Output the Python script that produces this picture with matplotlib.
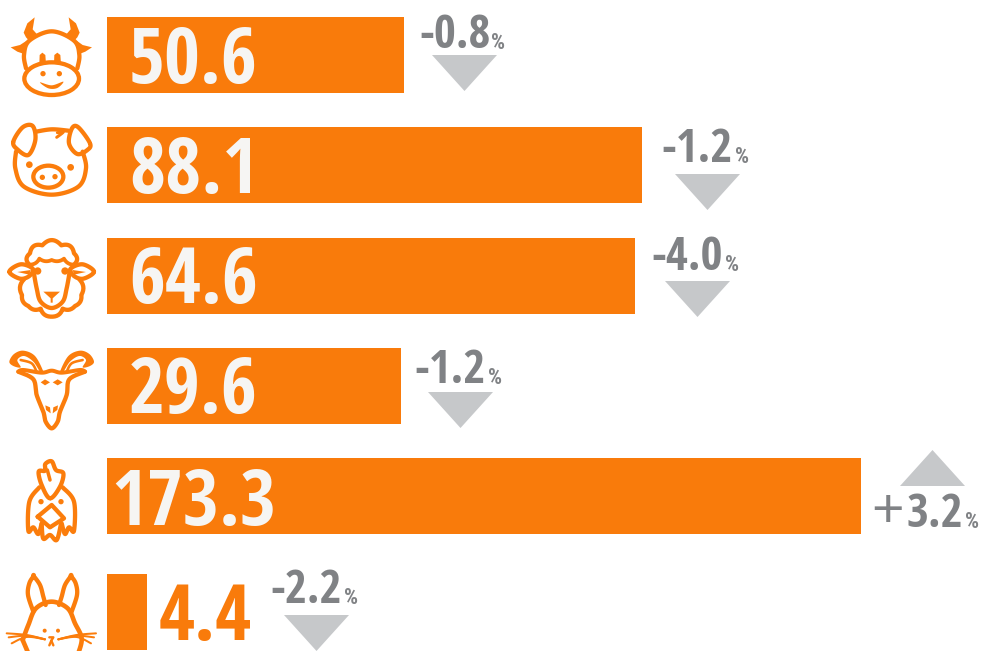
import numpy as np
import matplotlib
matplotlib.use("Agg")
import matplotlib.pyplot as plt
from matplotlib.patches import Polygon, Circle, Ellipse

# ---- data
animals = ["cow", "pig", "sheep", "goat", "chicken", "rabbit"]
values = [50.6, 88.1, 64.6, 29.6, 173.3, 4.4]
changes = [-0.8, -1.2, -4.0, -1.2, 3.2, -2.2]
bar_lengths = [297, 535, 528, 294, 754, 40]   # drawn length, not proportional to the value

ORANGE = "#F97B0B"
ICON = "#FB7D0C"
TRI = "#C6C8CA"
GREY = "#808285"
FONT = "Open Sans Condensed"
PCT_FONT = "Roboto Condensed"

fig = plt.figure(figsize=(9.84, 6.51), dpi=100)
ax = fig.add_axes([0, 0, 1, 1])
ax.set_xlim(0, 984)
ax.set_ylim(651, 0)
ax.axis("off")

# layout in pixels
bar_left = 107
bar_centre = [55, 165, 276, 386, 496, 612]
bar_h = 76
value_x = [129, 129, 129, 129, 111, 159]
value_base = [83, 193, 303, 413, 525, 640]
delta_x = [419, 661, 651, 414, 907, 270]
delta_base = [48, 162, 270, 383, 527, 603]
pct_x = [491, 735, 725, 488, 965, 344]
tri_x = [432, 675, 665, 428, 900, 284]
tri_y = [55, 174, 281, 392, 486, 615]
tri_w, tri_h = 65, 36

ax.barh(bar_centre, bar_lengths, height=bar_h, left=bar_left, color=ORANGE, linewidth=0)

for i, v in enumerate(values):
    ax.text(value_x[i], value_base[i], f"{v:.1f}", family=FONT, weight="bold", fontsize=56,
            color="#F6F5F3" if i < 5 else ORANGE, va="baseline", ha="left")
    c = changes[i]
    ax.text(delta_x[i], delta_base[i], f"{c:.1f}", family=FONT, weight="bold",
            fontsize=34, color=GREY, va="baseline", ha="left")
    ax.text(pct_x[i], delta_base[i] + 1, "%", family=PCT_FONT, weight="bold", fontsize=16,
            color=GREY, va="baseline", ha="left")
    if c < 0:
        pts = [(tri_x[i], tri_y[i]), (tri_x[i] + tri_w, tri_y[i]), (tri_x[i] + tri_w / 2, tri_y[i] + tri_h)]
    else:
        pts = [(tri_x[i], tri_y[i]), (tri_x[i] + tri_w, tri_y[i]), (tri_x[i] + tri_w / 2, tri_y[i] - tri_h)]
    ax.add_patch(Polygon(pts, closed=True, fc=TRI, ec="none"))
ax.text(871, 527, "+", family="Liberation Sans", fontsize=40, color=GREY, va="baseline", ha="left")


# ---- icon drawing helpers (units = 3 per pixel)
def spline(pts, closed=False, n=14):
    p = np.array(pts, float)
    if closed:
        p = np.vstack([p[-1], p, p[0], p[1]])
    else:
        p = np.vstack([p[0], p, p[-1]])
    out = []
    for i in range(1, len(p) - 2):
        t = np.linspace(0, 1, n, endpoint=False)[:, None]
        a, b, c, d = p[i - 1], p[i], p[i + 1], p[i + 2]
        out.append(0.5 * (2 * b + (c - a) * t + (2 * a - 5 * b + 4 * c - d) * t ** 2 + (3 * b - a - 3 * c + d) * t ** 3))
    out = np.vstack(out)
    if not closed:
        out = np.vstack([out, p[-2]])
    return out


class Icon:
    def __init__(self, oy):
        self.oy = oy

    def xy(self, a):
        a = np.array(a, float)
        return np.c_[a[:, 0] / 3, a[:, 1] / 3 + self.oy]

    def line(self, pts, lw=4.3, closed=False, smooth=True):
        a = spline(pts, closed) if smooth else np.array(pts + ([pts[0]] if closed else []), float)
        q = self.xy(a)
        ax.plot(q[:, 0], q[:, 1], color=ICON, lw=lw * 0.72, solid_capstyle="round", solid_joinstyle="round")

    def scallop(self, pts, bulge=0.5, lw=4.3):
        p = np.array(pts, float)
        out = []
        for a, b in zip(p[:-1], p[1:]):
            d = b - a
            m = (a + b) / 2 + bulge * np.array([d[1], -d[0]])
            t = np.linspace(0, 1, 16)[:, None]
            out.append((1 - t) ** 2 * a + 2 * t * (1 - t) * m + t ** 2 * b)
        q = self.xy(np.vstack(out))
        ax.plot(q[:, 0], q[:, 1], color=ICON, lw=lw * 0.72, solid_capstyle="round", solid_joinstyle="round")

    def fill(self, pts, smooth=False):
        a = spline(pts, True) if smooth else np.array(pts, float)
        ax.add_patch(Polygon(self.xy(a), closed=True, fc=ICON, ec="none"))

    def dot(self, x, y, r):
        ax.add_patch(Circle((x / 3, y / 3 + self.oy), r / 3, fc=ICON, ec="none"))

    def ell(self, x, y, w, h, lw=4.3):
        ax.add_patch(Ellipse((x / 3, y / 3 + self.oy), w / 3, h / 3, fc="none", ec=ICON, lw=lw * 0.72))


# cow
c = Icon(0)
c.line([(78, 205), (72, 165), (88, 122), (155, 94), (222, 122), (238, 165), (232, 205)])
c.ell(155, 236, 164, 98)
c.fill([(118, 192), (119, 165), (127, 158), (136, 165), (138, 192)])
c.fill([(162, 192), (163, 165), (172, 158), (181, 165), (183, 192)])
c.dot(129, 221, 8); c.dot(178, 221, 8)
c.fill([(120, 247), (155, 256), (190, 245), (172, 264), (145, 265)], smooth=True)
c.fill([(104, 52), (82, 70), (71, 98), (78, 112), (90, 125), (112, 104), (98, 88)])
c.fill([(206, 52), (228, 70), (239, 98), (232, 112), (220, 125), (198, 104), (212, 88)])
c.fill([(32, 142), (60, 135), (80, 122), (72, 162), (52, 155)])
c.fill([(276, 142), (248, 135), (230, 122), (238, 162), (256, 155)])

# pig
p = Icon(0)
p.line([(48, 455), (46, 505), (72, 560), (155, 584), (235, 560), (258, 505), (248, 455)])
p.line([(108, 395), (155, 388), (205, 392)])
p.line([(40, 425), (68, 382), (98, 378), (106, 420), (85, 465), (52, 448)], closed=True)
p.line([(270, 430), (235, 382), (216, 385), (207, 430), (232, 462), (262, 450)], closed=True)
p.ell(145, 530, 90, 66)
p.dot(127, 532, 8); p.dot(165, 530, 8)
p.dot(88, 494, 10); p.dot(212, 502, 10)
p.line([(170, 412), (190, 396), (172, 398)], lw=3)

# sheep
s = Icon(220)
s.scallop([(88, 134), (90, 100), (127, 76), (184, 76), (222, 100), (222, 134)], bulge=0.55)
s.scallop([(90, 134), (118, 116), (155, 120), (192, 116), (222, 134)], bulge=-0.3, lw=3.8)
s.line([(28, 155), (62, 133), (98, 146), (88, 168), (60, 176)], closed=True)
s.line([(282, 155), (248, 133), (212, 146), (222, 168), (250, 176)], closed=True)
s.fill([(52, 156), (92, 150), (88, 164)])
s.fill([(258, 156), (218, 150), (222, 164)])
s.line([(100, 150), (110, 205), (122, 245), (155, 264), (188, 245), (200, 205), (210, 150)])
s.scallop([(72, 178), (66, 225), (85, 258), (122, 266), (155, 290), (188, 266), (225, 258), (244, 225), (238, 178)], bulge=-0.38)
s.fill([(130, 215), (180, 215), (158, 235), (158, 248), (152, 248), (152, 235)])
s.dot(113, 153, 11); s.dot(195, 153, 11)

# goat
g = Icon(220)
g.line([(55, 455), (100, 478), (110, 525), (130, 575), (137, 605), (155, 625), (173, 605), (180, 575), (200, 525), (208, 478), (255, 455)], lw=4.3)
g.line([(55, 455), (70, 450), (125, 458), (155, 452), (185, 458), (240, 450), (255, 455)], lw=4)
g.fill(list(map(tuple, spline([(28, 425), (42, 402), (70, 392), (105, 408), (130, 455), (122, 458), (100, 425), (72, 408), (52, 420), (62, 442), (40, 438)], True))))
g.fill(list(map(tuple, spline([(282, 425), (268, 402), (240, 392), (205, 408), (180, 455), (188, 458), (210, 425), (238, 408), (258, 420), (248, 442), (270, 438)], True))))
g.line([(62, 420), (95, 430), (110, 455)], lw=2.6)
g.line([(248, 420), (215, 430), (200, 455)], lw=2.6)
g.fill([(122, 487), (135, 478), (150, 487), (135, 496)])
g.fill([(158, 487), (173, 478), (188, 487), (173, 496)])
g.fill([(152, 580), (138, 570), (136, 556), (150, 562)])
g.fill([(158, 580), (172, 570), (174, 556), (160, 562)])

# chicken
h = Icon(440)
h.line([(150, 175), (125, 135), (116, 95), (135, 92), (136, 72), (155, 64), (168, 90), (190, 100), (180, 140)], closed=True)
h.line([(142, 90), (150, 120)], lw=3.5)
h.line([(118, 142), (88, 185), (85, 272), (100, 262), (115, 282), (125, 250)])
h.line([(188, 142), (222, 185), (222, 272), (207, 262), (195, 282), (185, 250)])
h.line([(113, 230), (155, 195), (192, 235), (150, 262)], closed=True, smooth=False)
h.line([(125, 252), (130, 296), (150, 285), (170, 300), (183, 252)])
h.dot(123, 185, 8); h.dot(183, 185, 8)

# rabbit
r = Icon(440)
r.line([(100, 515), (84, 465), (88, 430), (101, 408), (101, 408), (120, 435), (130, 470), (137, 495)])
r.line([(215, 515), (231, 465), (227, 430), (213, 408), (213, 408), (195, 435), (185, 470), (177, 495)])
r.line([(68, 600), (85, 555), (108, 505), (155, 485), (203, 505), (225, 550), (245, 595), (235, 640)], lw=4.6)
r.line([(68, 600), (85, 640)], lw=4.6)
r.dot(134, 572, 6); r.dot(174, 572, 6)
r.line([(148, 592), (160, 592), (154, 602), (148, 616)], lw=2.4, smooth=False)
r.line([(154, 602), (160, 616)], lw=2.4, smooth=False)
for yy in (580, 592, 610):
    r.line([(20 + (yy - 580) * .5, yy), (80, 585 + (yy - 580) * .2), (135, 598)], lw=2)
    r.line([(288 - (yy - 580) * .5, yy), (230, 585 + (yy - 580) * .2), (175, 598)], lw=2)

fig.savefig("out.png", dpi=100)
